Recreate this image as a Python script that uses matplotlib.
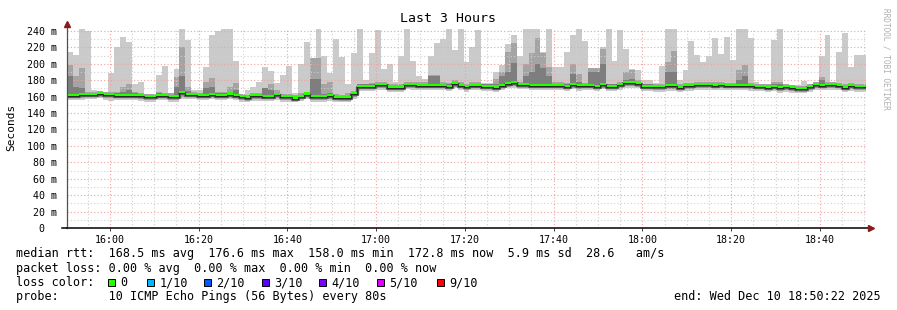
import matplotlib
matplotlib.use("Agg")
import matplotlib.pyplot as plt
import matplotlib.dates as mdates
from matplotlib.patches import Rectangle
from matplotlib.ticker import MultipleLocator, FuncFormatter
from datetime import datetime, timedelta
import numpy as np

# 10 pings every 80 s, last 3 hours (135 steps)
start = datetime(2025, 12, 10, 15, 50, 22)
step_s = 80

rtt_max = [214, 211, 243, 240, 168, 166, 165, 189, 221, 233,
           227, 175, 178, 163, 163, 186, 197, 165, 194, 243,
           229, 168, 168, 196, 235, 240, 243, 243, 203, 163,
           168, 172, 178, 196, 191, 177, 186, 197, 164, 200,
           227, 200, 243, 209, 189, 230, 208, 175, 213, 242,
           180, 213, 241, 194, 200, 178, 210, 243, 203, 185,
           181, 210, 225, 230, 243, 217, 243, 202, 220, 241,
           177, 177, 190, 198, 224, 235, 210, 243, 243, 243,
           215, 243, 196, 196, 214, 235, 243, 228, 195, 195,
           220, 243, 204, 241, 218, 194, 193, 180, 180, 177,
           197, 243, 242, 180, 193, 228, 211, 202, 209, 231,
           212, 233, 205, 243, 243, 231, 178, 176, 176, 229,
           243, 174, 174, 174, 179, 174, 175, 209, 235, 176,
           214, 238, 196, 211, 211]

rtt_p9 = [198, 185, 195, 166, 166, 167, 166, 166, 166, 172,
          176, 166, 165, 163, 163, 166, 165, 164, 184, 220,
          172, 166, 165, 178, 183, 166, 166, 172, 177, 163,
          162, 165, 165, 170, 176, 168, 163, 163, 162, 164,
          166, 207, 207, 175, 178, 163, 162, 165, 167, 176,
          176, 177, 178, 178, 175, 175, 175, 178, 178, 178,
          178, 186, 186, 178, 177, 180, 178, 176, 178, 178,
          176, 176, 182, 190, 215, 225, 178, 200, 213, 232,
          213, 196, 178, 178, 177, 200, 188, 177, 195, 195,
          218, 176, 176, 178, 190, 192, 180, 176, 176, 175,
          175, 202, 216, 175, 177, 177, 178, 178, 178, 178,
          178, 177, 177, 192, 199, 177, 176, 176, 175, 178,
          178, 175, 174, 173, 173, 175, 178, 184, 178, 178,
          177, 175, 177, 176, 176]

rtt_p8 = [185, 172, 170, 164, 164, 165, 164, 164, 164, 166,
          168, 164, 163, 162, 162, 164, 163, 162, 172, 185,
          167, 164, 163, 170, 172, 164, 164, 165, 168, 162,
          161, 163, 163, 170, 168, 164, 162, 162, 160, 162,
          165, 182, 182, 163, 164, 161, 160, 161, 165, 175,
          175, 175, 176, 176, 174, 174, 174, 177, 176, 176,
          176, 185, 185, 176, 175, 178, 176, 174, 176, 176,
          175, 175, 176, 185, 190, 201, 176, 185, 190, 200,
          195, 185, 175, 176, 175, 188, 178, 175, 190, 190,
          200, 175, 175, 176, 180, 182, 178, 175, 175, 174,
          174, 190, 190, 174, 175, 175, 176, 176, 176, 176,
          176, 176, 176, 180, 185, 175, 174, 174, 173, 176,
          176, 173, 172, 171, 171, 174, 176, 180, 176, 176,
          176, 173, 175, 174, 174]

rtt_median = [161, 161, 161.5, 162, 162, 163, 161.5, 161.5, 161, 161,
              161, 161, 160.5, 159, 159, 161, 161, 159.5, 159.5, 164,
              162, 162, 161, 161, 162, 161, 161, 162.5, 161, 159,
              158, 160.5, 160.5, 160, 160, 161.5, 159, 159, 157.6, 160,
              162.5, 159, 159, 159, 160.8, 158.7, 158, 158, 163, 172.2,
              172.2, 172.2, 173.8, 173.8, 171, 171, 171, 174.6, 173.8, 173,
              173, 173.4, 173.4, 173.4, 172.2, 175.4, 173, 171.4, 173.4, 173.4,
              172.2, 172.2, 171, 173, 175, 176.7, 174, 174, 173.4, 173.4,
              173, 173, 173, 173.4, 172.2, 174.6, 172.6, 173, 173, 172,
              174, 172, 172, 173.8, 176.3, 176.3, 175, 172.2, 172.2, 171.4,
              171.4, 172.6, 172.6, 171, 172.6, 172.6, 173.8, 173.8, 173.8, 173.4,
              173.8, 173.4, 173.4, 173.4, 173.4, 172.6, 171.8, 172, 171, 172,
              170.6, 171.4, 170, 168.8, 168.8, 171.4, 173.8, 173, 173.8, 173.8,
              173, 171, 172.6, 171.4, 171.4]

rtt_low = [158, 158, 158, 159, 159, 160, 158, 158, 158, 158,
           158, 158, 157, 156, 156, 158, 158, 156, 156, 160,
           159, 159, 158, 158, 159, 158, 158, 159, 158, 156,
           155, 157, 157, 157, 157, 158, 156, 156, 155, 157,
           159, 156, 156, 156, 157, 156, 155, 155, 159, 169,
           169, 169, 170, 170, 168, 168, 168, 171, 170, 170,
           170, 170, 170, 170, 169, 172, 170, 168, 170, 170,
           169, 169, 168, 170, 172, 173, 171, 171, 170, 170,
           170, 170, 170, 170, 169, 171, 169, 170, 170, 169,
           171, 169, 169, 170, 173, 173, 172, 169, 169, 168,
           168, 169, 169, 168, 169, 169, 170, 170, 170, 170,
           170, 170, 170, 170, 170, 169, 169, 169, 168, 169,
           167, 168, 167, 166, 166, 168, 170, 170, 170, 170,
           170, 168, 169, 168, 168]

rtt_min = [156, 156, 156, 157, 157, 158, 156, 155, 156, 156,
           156, 156, 155, 154, 154, 156, 156, 154, 154, 157,
           157, 157, 156, 156, 157, 156, 156, 157, 156, 154,
           153, 155, 155, 155, 155, 156, 154, 154, 153, 155,
           157, 154, 154, 154, 155, 154, 153, 153, 157, 167,
           167, 167, 168, 168, 166, 166, 166, 169, 168, 168,
           168, 168, 168, 168, 167, 170, 168, 166, 168, 168,
           167, 167, 166, 168, 170, 171, 169, 169, 168, 168,
           168, 168, 168, 168, 167, 169, 167, 168, 168, 167,
           169, 167, 167, 168, 171, 171, 170, 167, 167, 166,
           166, 167, 167, 166, 167, 167, 168, 168, 168, 168,
           168, 168, 168, 168, 168, 167, 167, 167, 166, 167,
           165, 166, 165, 164, 164, 166, 168, 168, 168, 168,
           168, 166, 167, 166, 166]

loss_labels = ["0", "1/10", "2/10", "3/10", "4/10", "5/10", "9/10"]
loss_colors = ["#26ff00", "#00b8ff", "#0059ff", "#5e00ff", "#7e00ff", "#dd00ff", "#ff0000"]

legend_lines = [
    "median rtt:  168.5 ms avg  176.6 ms max  158.0 ms min  172.8 ms now  5.9 ms sd  28.6   am/s",
    "packet loss: 0.00 % avg  0.00 % max  0.00 % min  0.00 % now",
    "loss color:",
    "probe:       10 ICMP Echo Pings (56 Bytes) every 80s",
]
end_text = "end: Wed Dec 10 18:50:22 2025"

W, H = 897, 310
MONO = "DejaVu Sans Mono"


def ext(a):
    # repeat last value so step='post' covers the final interval
    return np.append(a, a[-1])


t = mdates.date2num([start + timedelta(seconds=step_s * i) for i in range(len(rtt_median) + 1)])

fig = plt.figure(figsize=(W / 100, H / 100), dpi=100)
fig.patch.set_facecolor("white")
ax = fig.add_axes([67 / W, (H - 228) / H, 799 / W, 200.3 / H])
ax.set_xlim(t[0], t[-1])
ax.set_ylim(0, 244)

med = np.array(rtt_median)
ax.fill_between(t, ext(rtt_min), ext(rtt_max), step="post", color="#cacaca", lw=0, zorder=1)
ax.fill_between(t, ext(rtt_low), ext(rtt_p9), step="post", color="#a4a4a4", lw=0, zorder=2)
ax.fill_between(t, ext(med), ext(rtt_p8), step="post", color="#7e7e7e", lw=0, zorder=3)
ax.step(t, ext(med), where="post", color="#585858", lw=2.4, zorder=4)
ax.fill_between(t, ext(med), ext(med + 2.6), step="post", color=loss_colors[0], lw=0, zorder=5)
ax.step(t, ext(med), where="post", color="#202020", lw=0.6, zorder=6)

# grid
ax.xaxis.set_major_locator(mdates.MinuteLocator(byminute=[0, 20, 40]))
ax.xaxis.set_minor_locator(mdates.MinuteLocator(byminute=range(0, 60, 5)))
ax.xaxis.set_major_formatter(mdates.DateFormatter("%H:%M"))
ax.yaxis.set_major_locator(MultipleLocator(20))
ax.yaxis.set_minor_locator(MultipleLocator(10))
ax.yaxis.set_major_formatter(FuncFormatter(lambda v, p: "0  " if v == 0 else f"{int(v)} m"))
ax.grid(which="minor", color="#d0d0d0", ls=(0, (1, 2)), lw=0.8, zorder=7)
ax.grid(which="major", color="#f4a0a0", ls=(0, (1, 2)), lw=0.8, zorder=8)
ax.set_axisbelow(False)

for s in ax.spines.values():
    s.set_visible(False)
ax.tick_params(axis="y", which="both", length=0, labelsize=7.2, pad=7)
ax.tick_params(axis="x", which="major", length=2.5, width=0.7, color="#404040", labelsize=7.2, pad=2.5)
ax.tick_params(axis="x", which="minor", length=0)
for lab in ax.get_xticklabels() + ax.get_yticklabels():
    lab.set_family(MONO)

# axes with arrows
ax.plot([0, 1.006], [0, 0], transform=ax.transAxes, color="black", lw=1.1, clip_on=False, zorder=10)
ax.plot([0, 0], [0, 1.015], transform=ax.transAxes, color="#505050", lw=0.9, clip_on=False, zorder=10)
ax.plot([-0.006, 0], [0, 0], transform=ax.transAxes, color="black", lw=1.1, clip_on=False, zorder=10)
ax.plot([1.006], [0], marker=">", ms=4, color="#8b1a1a", transform=ax.transAxes, clip_on=False, zorder=11)
ax.plot([0], [1.02], marker="^", ms=4, color="#8b1a1a", transform=ax.transAxes, clip_on=False, zorder=11)

# texts
fig.text(448 / W, 1 - 19 / H, "Last 3 Hours", ha="center", va="center", family=MONO, size=9.5)
fig.text(11 / W, 1 - 127 / H, "Seconds", ha="center", va="center", rotation=90, family=MONO, size=8)
fig.text(886 / W, 1 - 59 / H, "RRDTOOL / TOBI OETIKER", ha="center", va="center", rotation=270,
         family=MONO, size=5.6, color="#b0b0b0")

for i, line in enumerate(legend_lines):
    fig.text(16 / W, 1 - (254 + 14.3 * i) / H, line, ha="left", va="center", family=MONO, size=8.5)
fig.text(881 / W, 1 - 297 / H, end_text, ha="right", va="center", family=MONO, size=8.5)

box_x = [108, 147, 204, 262, 319, 377, 437]
for bx, lab, col in zip(box_x, loss_labels, loss_colors):
    fig.patches.append(Rectangle((bx / W, 1 - 286 / H), 7 / W, 7 / H, transform=fig.transFigure,
                                 facecolor=col, edgecolor="black", lw=0.7))
    fig.text((bx + 12.5) / W, 1 - 282.6 / H, lab, ha="left", va="center", family=MONO, size=8.5)

fig.savefig("out.png", dpi=100, facecolor="white")
